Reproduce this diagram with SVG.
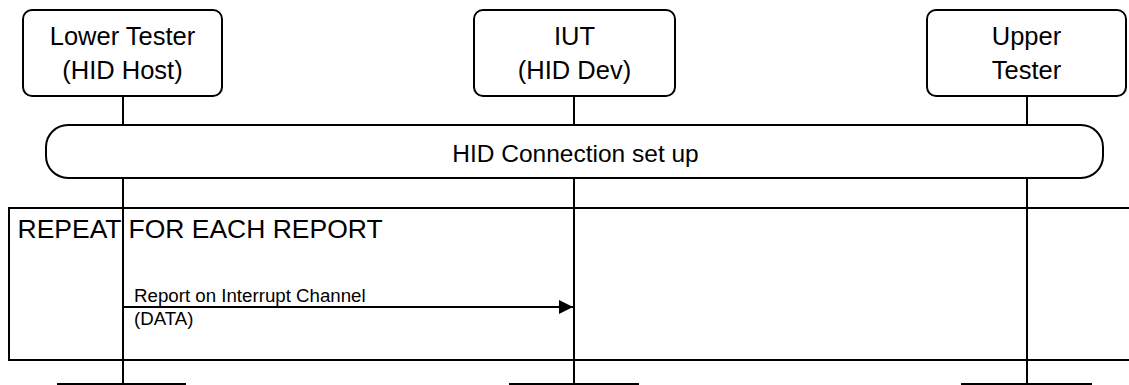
<svg xmlns="http://www.w3.org/2000/svg" width="1129" height="385" viewBox="0 0 1129 385">
<style>
.box{fill:#fff;stroke:#000;stroke-width:2}
.ln{fill:none;stroke:#000;stroke-width:2}
.t{font-family:"Liberation Sans",Arial,sans-serif;fill:#000}
.n{font-size:25.5px;text-anchor:middle}
</style>
<defs>
<marker id="ah" markerUnits="userSpaceOnUse" markerWidth="15" markerHeight="14" refX="14" refY="7" orient="auto">
<path d="M0,0 L14,7 L0,14 Z" fill="#000"/>
</marker>
</defs>
<rect width="1129" height="385" fill="#fff"/>
<g id="lifelines">
<line class="ln" x1="123" y1="96" x2="123" y2="385"/>
<line class="ln" x1="574" y1="96" x2="574" y2="385"/>
<line class="ln" x1="1027" y1="96" x2="1027" y2="385"/>
</g>
<g id="node-lower">
<rect class="box" x="23" y="10" width="199" height="86" rx="9"/>
<text class="t n" x="122.5" y="44.5">Lower Tester</text>
<text class="t n" x="122.5" y="78.5">(HID Host)</text>
</g>
<g id="node-iut">
<rect class="box" x="474" y="10" width="201" height="86" rx="9"/>
<text class="t n" x="574.5" y="44.5">IUT</text>
<text class="t n" x="574.5" y="78.5">(HID Dev)</text>
</g>
<g id="node-upper">
<rect class="box" x="927" y="10" width="199" height="86" rx="9"/>
<text class="t n" x="1026.5" y="44.5">Upper</text>
<text class="t n" x="1026.5" y="78.5">Tester</text>
</g>
<g id="setup">
<rect class="box" x="46" y="125" width="1057" height="53" rx="22" ry="22"/>
<text class="t" x="575.5" y="161.5" font-size="24.5" text-anchor="middle">HID Connection set up</text>
</g>
<g id="repeat-frame">
<path class="ln" d="M1135,208 H9 V360 H1135"/>
<text class="t" x="17.5" y="237.5" font-size="26.5">REPEAT FOR EACH REPORT</text>
</g>
<g id="connectors">
<line class="ln" x1="123" y1="307" x2="573" y2="307" marker-end="url(#ah)"/>
<text class="t" x="134" y="301.5" font-size="18.7">Report on Interrupt Channel</text>
<text class="t" x="134" y="325" font-size="18.7">(DATA)</text>
</g>
<g id="node-lower-end">
<rect class="box" x="58" y="384" width="127" height="40"/>
</g>
<g id="node-iut-end">
<rect class="box" x="510" y="384" width="128" height="40"/>
</g>
<g id="node-upper-end">
<rect class="box" x="962" y="384" width="129" height="40"/>
</g>
</svg>
